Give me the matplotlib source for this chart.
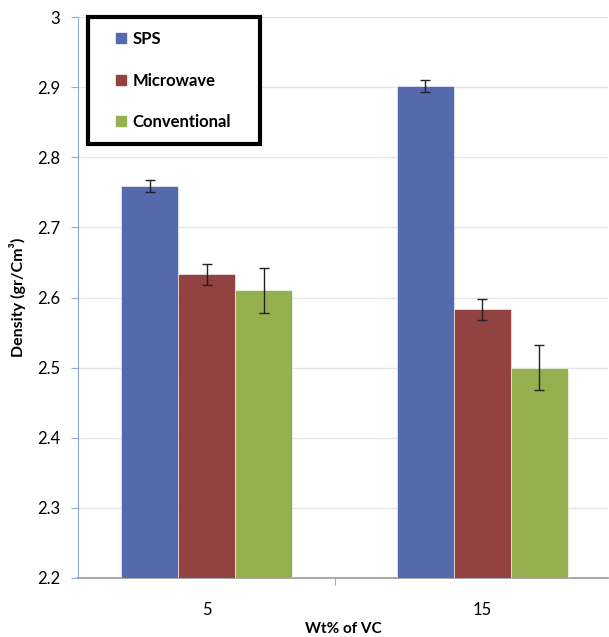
import matplotlib
matplotlib.use("Agg")
import matplotlib.pyplot as plt
from matplotlib.lines import Line2D
import numpy as np

plt.rcParams['font.family'] = ['Lato', 'DejaVu Sans']

categories = ['5', '15']
series = ['SPS', 'Microwave', 'Conventional']
values = {
    'SPS': [2.759, 2.901],
    'Microwave': [2.633, 2.583],
    'Conventional': [2.610, 2.500],
}
errors = {
    'SPS': [0.0085, 0.0085],
    'Microwave': [0.015, 0.015],
    'Conventional': [0.032, 0.032],
}
colors = {'SPS': '#5569AD', 'Microwave': '#924240', 'Conventional': '#95B04F'}
yticks = [2.2, 2.3, 2.4, 2.5, 2.6, 2.7, 2.8, 2.9, 3.0]
ytick_labels = ['2.2', '2.3', '2.4', '2.5', '2.6', '2.7', '2.8', '2.9', '3']

W, H = 609, 637
fig = plt.figure(figsize=(W/100, H/100), dpi=100)
ax = fig.add_axes([78/W, (H-578)/H, (608-78)/W, (578-17)/H])

x = np.arange(len(categories))
bw = 0.207
for i, s in enumerate(series):
    ax.bar(x + (i-1)*bw, values[s], bw, bottom=0, color=colors[s],
           edgecolor='#ffffff', linewidth=0.4, zorder=3,
           yerr=errors[s], capsize=3.5,
           error_kw=dict(ecolor='#222222', elinewidth=1.0, capthick=1.0, zorder=4))

ax.set_ylim(2.2, 3.0)
ax.set_xlim(-0.468, 1.456)
ax.set_yticks(yticks)
ax.set_yticklabels(ytick_labels, fontsize=12)
ax.set_xticks(x)
ax.set_xticklabels(categories, fontsize=12)
ax.tick_params(axis='x', length=0, pad=17)
ax.tick_params(axis='y', length=5, color='#8EA9DB', pad=8, direction='out')
ax.set_xticks([0.465], minor=True)
ax.tick_params(axis='x', which='minor', length=5, color='#999999')
ax.yaxis.grid(True, color='#E6E6E6', linewidth=1.0, zorder=0)
ax.set_axisbelow(True)
for sp in ['top', 'right']:
    ax.spines[sp].set_visible(False)
ax.spines['left'].set_color('#8EA9DB')
ax.spines['bottom'].set_color('#999999')
ax.spines['bottom'].set_linewidth(1.2)

ax.set_ylabel('Density (gr/Cm³)', fontsize=11.5, fontweight='bold', labelpad=8)
ax.set_xlabel('Wt% of VC', fontsize=11, fontweight='bold', labelpad=3)

handles = [Line2D([0], [0], marker='s', linestyle='none', markersize=7.5,
                  markerfacecolor=colors[s], markeredgecolor=colors[s]) for s in series]
leg = ax.legend(handles, series, loc='upper left',
                bbox_to_anchor=(0.0189, 0.0, 0.3245, 1.0), mode='expand',
                frameon=True, fancybox=False, framealpha=1.0,
                prop={'weight': 'bold', 'size': 12},
                labelspacing=1.55, handlelength=2.28, handletextpad=-0.45,
                borderpad=0.82, borderaxespad=0.0)
leg.get_frame().set_edgecolor('black')
leg.get_frame().set_linewidth(3)
leg.set_zorder(10)

fig.savefig('out.png', dpi=100)
